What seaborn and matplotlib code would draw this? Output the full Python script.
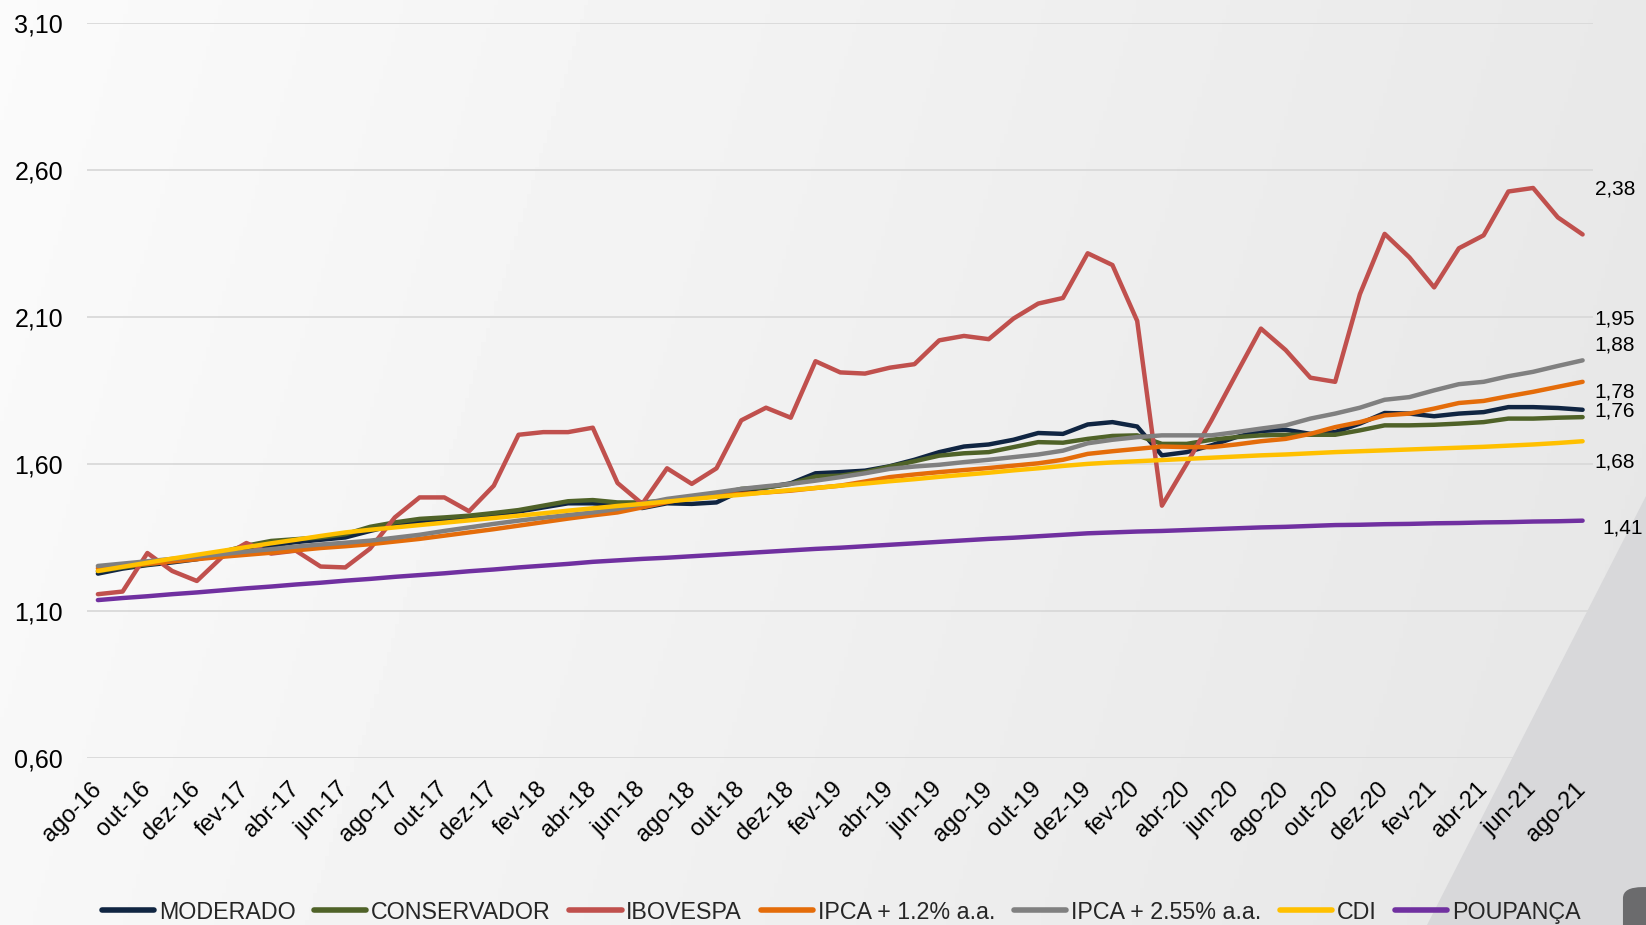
import matplotlib.pyplot as plt
import matplotlib.ticker as mticker
from matplotlib.patches import Polygon, FancyBboxPatch
import numpy as np
import pandas as pd
import seaborn as sns

# eixo x: um ponto por mes, ago-16 ate ago-21, rotulo a cada 2 meses
tick_labels = [
    "ago-16", "out-16", "dez-16", "fev-17", "abr-17", "jun-17", "ago-17", "out-17",
    "dez-17", "fev-18", "abr-18", "jun-18", "ago-18", "out-18", "dez-18", "fev-19",
    "abr-19", "jun-19", "ago-19", "out-19", "dez-19", "fev-20", "abr-20", "jun-20",
    "ago-20", "out-20", "dez-20", "fev-21", "abr-21", "jun-21", "ago-21",
]

series_names = ["MODERADO", "CONSERVADOR", "IBOVESPA", "IPCA + 1.2% a.a.",
                "IPCA + 2.55% a.a.", "CDI", "POUPANÇA"]

moderado = [
    1.227, 1.244, 1.256, 1.265, 1.276, 1.293, 1.308, 1.322, 1.334, 1.342, 1.350,
    1.372, 1.392, 1.405, 1.413, 1.419, 1.428, 1.438, 1.452, 1.466, 1.466,
    1.458, 1.450, 1.466, 1.464, 1.469, 1.509, 1.520, 1.534, 1.568, 1.572,
    1.577, 1.592, 1.614, 1.640, 1.659, 1.666, 1.682, 1.705, 1.702, 1.734,
    1.742, 1.727, 1.629, 1.640, 1.663, 1.691, 1.712, 1.716, 1.702, 1.708,
    1.737, 1.773, 1.771, 1.762, 1.771, 1.776, 1.793, 1.793, 1.790, 1.784,
]
conservador = [
    1.235, 1.248, 1.258, 1.270, 1.283, 1.300, 1.322, 1.338, 1.344, 1.350, 1.361,
    1.386, 1.401, 1.413, 1.418, 1.424, 1.433, 1.443, 1.458, 1.473, 1.477,
    1.469, 1.469, 1.475, 1.486, 1.495, 1.515, 1.520, 1.532, 1.557, 1.560,
    1.572, 1.591, 1.609, 1.628, 1.636, 1.640, 1.657, 1.674, 1.672, 1.685,
    1.695, 1.697, 1.668, 1.668, 1.682, 1.691, 1.697, 1.699, 1.699, 1.699,
    1.714, 1.731, 1.731, 1.733, 1.737, 1.742, 1.754, 1.754, 1.757, 1.759,
]
ibovespa = [
    1.157, 1.166, 1.297, 1.236, 1.202, 1.282, 1.331, 1.295, 1.305, 1.251, 1.248,
    1.312, 1.418, 1.486, 1.486, 1.439, 1.526, 1.699, 1.708, 1.708, 1.723,
    1.535, 1.464, 1.585, 1.532, 1.585, 1.748, 1.791, 1.757, 1.949, 1.911,
    1.907, 1.927, 1.939, 2.020, 2.035, 2.024, 2.094, 2.145, 2.164, 2.316,
    2.276, 2.086, 1.458, 1.600, 1.748, 1.905, 2.060, 1.987, 1.893, 1.879,
    2.177, 2.382, 2.302, 2.200, 2.333, 2.377, 2.526, 2.538, 2.438, 2.380,
]
ipca_12 = [
    1.245, 1.252, 1.260, 1.268, 1.276, 1.284, 1.291, 1.298, 1.306, 1.314, 1.320,
    1.327, 1.336, 1.345, 1.356, 1.367, 1.378, 1.390, 1.402, 1.414, 1.425,
    1.435, 1.452, 1.470, 1.486, 1.492, 1.498, 1.503, 1.509, 1.518, 1.526,
    1.540, 1.555, 1.564, 1.572, 1.579, 1.586, 1.594, 1.602, 1.614, 1.634,
    1.643, 1.651, 1.659, 1.657, 1.657, 1.666, 1.677, 1.685, 1.702, 1.725,
    1.742, 1.765, 1.771, 1.788, 1.807, 1.814, 1.830, 1.845, 1.862, 1.879,
]
ipca_255 = [
    1.253, 1.261, 1.269, 1.277, 1.285, 1.293, 1.302, 1.310, 1.319, 1.326, 1.332,
    1.339, 1.349, 1.359, 1.372, 1.384, 1.396, 1.407, 1.417, 1.426, 1.435,
    1.447, 1.464, 1.481, 1.492, 1.503, 1.515, 1.524, 1.532, 1.543, 1.555,
    1.568, 1.583, 1.591, 1.597, 1.606, 1.614, 1.623, 1.632, 1.645, 1.670,
    1.682, 1.691, 1.697, 1.697, 1.697, 1.708, 1.720, 1.731, 1.754, 1.771,
    1.791, 1.818, 1.827, 1.850, 1.871, 1.879, 1.898, 1.913, 1.933, 1.952,
]
cdi = [
    1.236, 1.250, 1.264, 1.278, 1.291, 1.304, 1.317, 1.330, 1.342, 1.355, 1.367,
    1.376, 1.384, 1.392, 1.400, 1.408, 1.416, 1.424, 1.432, 1.441, 1.449,
    1.457, 1.464, 1.472, 1.480, 1.488, 1.495, 1.503, 1.511, 1.518, 1.526,
    1.533, 1.541, 1.548, 1.556, 1.563, 1.570, 1.578, 1.585, 1.593, 1.600,
    1.605, 1.609, 1.613, 1.617, 1.621, 1.625, 1.629, 1.632, 1.636, 1.640,
    1.643, 1.646, 1.649, 1.652, 1.655, 1.658, 1.662, 1.666, 1.671, 1.677,
]
poupanca = [
    1.137, 1.144, 1.150, 1.157, 1.163, 1.170, 1.177, 1.183, 1.190, 1.196, 1.203,
    1.209, 1.216, 1.222, 1.228, 1.235, 1.241, 1.248, 1.254, 1.260, 1.267,
    1.272, 1.277, 1.281, 1.286, 1.291, 1.296, 1.301, 1.306, 1.311, 1.315,
    1.320, 1.325, 1.330, 1.335, 1.340, 1.345, 1.349, 1.354, 1.359, 1.364,
    1.367, 1.370, 1.372, 1.375, 1.378, 1.381, 1.384, 1.386, 1.389, 1.392,
    1.393, 1.395, 1.396, 1.398, 1.399, 1.401, 1.402, 1.404, 1.405, 1.407,
]

colors = {
    "MODERADO": "#102542",
    "CONSERVADOR": "#4f6228",
    "IBOVESPA": "#c0504d",
    "IPCA + 1.2% a.a.": "#e46c0a",
    "IPCA + 2.55% a.a.": "#808080",
    "CDI": "#ffc000",
    "POUPANÇA": "#7030a0",
}

# posicao (x, y em unidades de dados) dos rotulos do ultimo valor
end_label_pos = {
    "IBOVESPA": (61.3, 2.535),
    "IPCA + 2.55% a.a.": (61.3, 2.092),
    "IPCA + 1.2% a.a.": (61.3, 2.003),
    "MODERADO": (61.3, 1.843),
    "CONSERVADOR": (61.3, 1.779),
    "CDI": (61.3, 1.605),
    "POUPANÇA": (61.6, 1.383),
}

wide = pd.DataFrame(dict(zip(series_names, [moderado, conservador, ibovespa, ipca_12,
                                            ipca_255, cdi, poupanca])))
wide["mes"] = np.arange(len(wide))
df = wide.melt(id_vars="mes", var_name="serie", value_name="valor")

sns.set_theme(style="white")
plt.rcParams["font.family"] = ["Liberation Sans", "DejaVu Sans"]

fig = plt.figure(figsize=(16.46, 9.25), dpi=100)

# fundo em degrade cinza claro, como no slide original
bg = fig.add_axes([0, 0, 1, 1], zorder=-10)
gx, gy = np.meshgrid(np.linspace(0, 1, 400), np.linspace(0, 1, 200))
grad = 0.982 - 0.07 * gx - 0.012 * (1 - gy)
bg.imshow(grad, extent=[0, 1, 0, 1], origin="lower", aspect="auto",
          cmap="gray", vmin=0, vmax=1)
bg.add_patch(Polygon([(1.0, 0.464), (1.0, 0.0), (0.867, 0.0)],
                     closed=True, color="#d8d8da", lw=0))
bg.add_patch(FancyBboxPatch((0.986, -0.05), 0.05, 0.091,
                            boxstyle="round,pad=0,rounding_size=0.012",
                            color="#6b6b6d", lw=0))
bg.set_xlim(0, 1)
bg.set_ylim(0, 1)
bg.axis("off")

ax = fig.add_axes([0.0527, 0.1805, 0.9151, 0.795])
ax.set_facecolor("none")

sns.lineplot(data=df, x="mes", y="valor", hue="serie", hue_order=series_names,
             palette=colors, linewidth=3.2, ax=ax)

ax.set_xlim(-0.45, 60.42)
ax.set_ylim(0.6, 3.1)
ax.set_yticks(np.arange(0.6, 3.11, 0.5))
ax.yaxis.set_major_formatter(
    mticker.FuncFormatter(lambda v, _: f"{v:.2f}".replace(".", ",")))
ax.set_xticks(np.arange(0, 61, 2))
ax.set_xticklabels(tick_labels, rotation=45, ha="right", va="center",
                   rotation_mode="anchor")
ax.tick_params(axis="x", labelsize=17, pad=20, length=0, colors="black")
ax.tick_params(axis="y", labelsize=18, pad=17, length=0, colors="black")
ax.set_xlabel("")
ax.set_ylabel("")
ax.grid(False)
ax.yaxis.grid(True, color="#d9d9d9", linewidth=1.3)
for s in ax.spines.values():
    s.set_visible(False)

# rotulos do ultimo valor de cada serie
last_vals = wide[series_names].iloc[-1]
for name, (lx, ly) in end_label_pos.items():
    ax.text(lx, ly, f"{last_vals[name]:.2f}".replace(".", ","), fontsize=15,
            ha="center", va="center", color="black", clip_on=False)

handles, labels = ax.get_legend_handles_labels()
ax.get_legend().remove()
for h in handles:
    h.set_linewidth(4)
fig.legend(handles, labels, loc="center", bbox_to_anchor=(0.511, 0.014), ncol=7,
           frameon=False, fontsize=16.75, handlelength=2.25, handletextpad=0.2,
           columnspacing=0.8)

fig.savefig("out.png", dpi=100)
